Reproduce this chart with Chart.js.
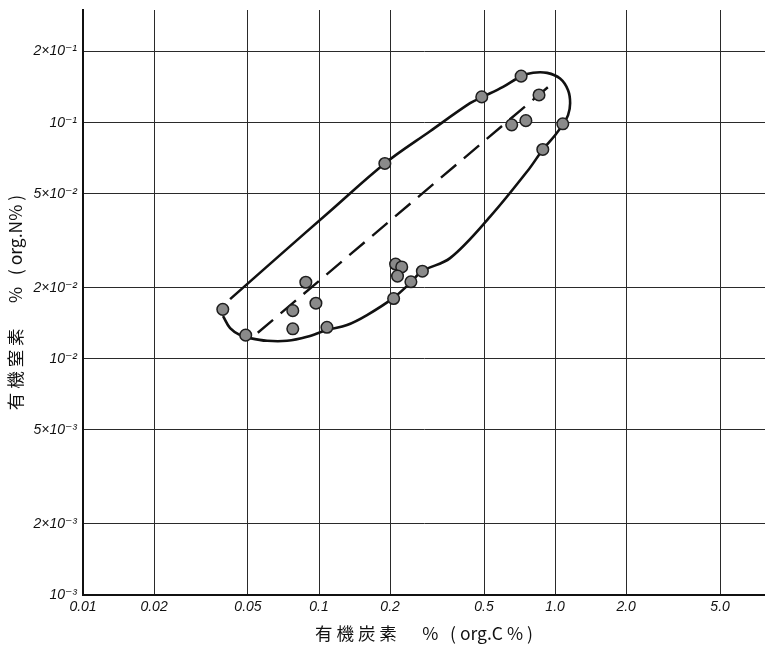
<!DOCTYPE html>
<html>
<head>
<meta charset="utf-8">
<script src="https://cdn.jsdelivr.net/npm/chart.js@4/dist/chart.umd.min.js"></script>
<style>
  html, body { margin: 0; padding: 0; background: #ffffff; overflow: hidden; }
  #wrap { width: 765px; height: 654px; position: relative; overflow: hidden; }
  canvas { display: block; }
</style>
</head>
<body>
<div id="wrap"><canvas id="c" width="765" height="654"></canvas></div>
<script>
// ---- data ----
const orgC = [0.0391, 0.0489, 0.0879, 0.0774, 0.0774, 0.0970, 0.108, 0.190, 0.211, 0.224, 0.215,
              0.207, 0.245, 0.274, 0.489, 0.718, 0.855, 0.655, 0.752, 1.078, 0.887];
const orgN = [0.0162, 0.0126, 0.0211, 0.0160, 0.0134, 0.0172, 0.0136, 0.0672, 0.0252, 0.0245, 0.0224,
              0.0180, 0.0212, 0.0235, 0.1286, 0.1574, 0.131, 0.0979, 0.102, 0.0989, 0.0770];

// envelope curve (solid)
const envC = [0.0420, 0.0683, 0.1113, 0.1905, 0.2953, 0.4363, 0.4906, 0.6021, 0.7177, 0.8069, 0.9250,
              1.050, 1.135, 1.158, 1.135, 1.081, 1.000, 0.8895, 0.7686, 0.5305, 0.3590, 0.2732, 0.2454,
              0.2059, 0.1597, 0.1314, 0.1081, 0.0890, 0.0732, 0.0602, 0.0510, 0.0463, 0.0420, 0.0392];
const envN = [0.01790, 0.02749, 0.04220, 0.06740, 0.0920, 0.1209, 0.1282, 0.1418, 0.1573, 0.1628, 0.1625,
              0.1538, 0.1373, 0.1209, 0.1076, 0.0986, 0.0885, 0.0772, 0.0629, 0.0400, 0.0267, 0.02351, 0.02113,
              0.01807, 0.01532, 0.01390, 0.01325, 0.01240, 0.01192, 0.01192, 0.01224, 0.01260, 0.01349, 0.01517];

// trend line (dashed)
const trendC = [0.055, 1.0];
const trendN = [0.0129, 0.150];

// axes
const xTickValues = [0.01, 0.02, 0.05, 0.1, 0.2, 0.5, 1, 2, 5];
const xTickLabels = ['0.01', '0.02', '0.05', '0.1', '0.2', '0.5', '1.0', '2.0', '5.0'];
const yTickValues = [0.001, 0.002, 0.005, 0.01, 0.02, 0.05, 0.1, 0.2];
const yTickLabels = ['10⁻³', '2×10⁻³', '5×10⁻³', '10⁻²', '2×10⁻²', '5×10⁻²', '10⁻¹', '2×10⁻¹'];
const xTitle = '有 機 炭 素　  %   ( org.C % )';
const yTitle = '有 機 窒 素　  %   ( org.N% )';

const toXY = (xs, ys) => xs.map((x, i) => ({ x: x, y: ys[i] }));

const tickFont = { family: "'Liberation Sans', 'DejaVu Sans', sans-serif", size: 14, style: 'italic' };
const titleFont = { family: "'Noto Sans CJK JP', sans-serif", size: 17.5 };

new Chart(document.getElementById('c'), {
  type: 'scatter',
  data: {
    datasets: [
      {
        label: 'samples',
        data: toXY(orgC, orgN),
        order: 0,
        pointRadius: 5.8,
        pointHoverRadius: 5.8,
        pointBackgroundColor: '#8a8a8a',
        pointBorderColor: '#1e1e1e',
        pointBorderWidth: 1.5,
        showLine: false
      },
      {
        label: 'envelope',
        data: toXY(envC, envN),
        order: 1,
        showLine: true,
        tension: 0.35,
        borderColor: '#111111',
        borderWidth: 2.6,
        pointRadius: 0,
        fill: false
      },
      {
        label: 'trend',
        data: toXY(trendC, trendN),
        order: 2,
        showLine: true,
        borderColor: '#111111',
        borderWidth: 2.4,
        borderDash: [20, 10],
        pointRadius: 0,
        fill: false
      }
    ]
  },
  options: {
    responsive: false,
    animation: false,
    devicePixelRatio: 1,
    layout: { autoPadding: false, padding: { left: 0, right: 0, top: 10, bottom: 0 } },
    plugins: {
      legend: { display: false },
      tooltip: { enabled: false },
      title: { display: false }
    },
    scales: {
      x: {
        type: 'logarithmic',
        min: 0.01,
        max: 7.75,
        afterBuildTicks: (s) => { s.ticks = xTickValues.map(v => ({ value: v })); },
        afterFit: (s) => { s.height = 59; s.paddingLeft = 0; s.paddingRight = 0; },
        ticks: {
          autoSkip: false,
          maxRotation: 0,
          padding: 4,
          color: '#111',
          font: tickFont,
          callback: (v) => { const i = xTickValues.indexOf(v); return i >= 0 ? xTickLabels[i] : ''; }
        },
        grid: { color: '#2a2a2a', lineWidth: 1, drawTicks: false },
        border: { display: true, color: '#111', width: 2 },
        title: { display: true, text: xTitle, color: '#111', font: titleFont, padding: { top: 0, bottom: 10 } }
      },
      y: {
        type: 'logarithmic',
        min: 0.001,
        max: 0.3,
        afterBuildTicks: (s) => { s.ticks = yTickValues.map(v => ({ value: v })); },
        afterFit: (s) => { s.width = 83; s.paddingTop = 0; s.paddingBottom = 0; },
        ticks: {
          autoSkip: false,
          padding: 6,
          color: '#111',
          font: tickFont,
          callback: (v) => { const i = yTickValues.indexOf(v); return i >= 0 ? yTickLabels[i] : ''; }
        },
        grid: { color: '#2a2a2a', lineWidth: 1, drawTicks: false },
        border: { display: true, color: '#111', width: 2 },
        title: { display: true, text: yTitle, color: '#111', font: titleFont, padding: { top: 5, bottom: 0 } }
      }
    }
  }
});
</script>
</body>
</html>
